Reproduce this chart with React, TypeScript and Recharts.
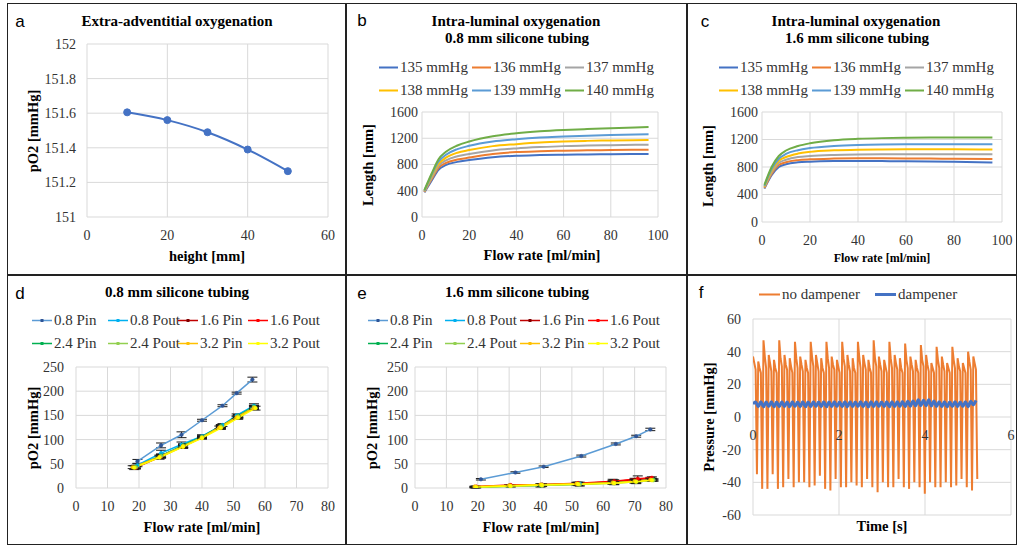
import React from 'react';
import { LineChart, Line, XAxis, YAxis, CartesianGrid, ErrorBar } from 'recharts';

const SERIF = '"Liberation Serif", "Times New Roman", Times, serif';
const SANS = '"Liberation Sans", Arial, sans-serif';
const GRID = '#d9d9d9';
const TICK_COLOR = '#333333';

// ---------------- Panel a ----------------
const aHeights = [10, 20, 30, 40, 50];
const aPO2 = [151.605, 151.56, 151.49, 151.39, 151.265];
const aXTicks = [0, 20, 40, 60];
const aYTicks = [151, 151.2, 151.4, 151.6, 151.8, 152];

// ---------------- Panels b, c ----------------
const lumenNames = ['135 mmHg', '136 mmHg', '137 mmHg', '138 mmHg', '139 mmHg', '140 mmHg'];
const lumenKeys = ['p135', 'p136', 'p137', 'p138', 'p139', 'p140'];
const lumenFlow = [1, 4, 7, 10, 15, 20, 30, 40, 50, 60, 70, 80, 96];
const lumenXTicks = [0, 20, 40, 60, 80, 100];
const lumenYTicks = [0, 400, 800, 1200, 1600];

const b135 = [375, 550, 720, 790, 840, 867, 910, 933, 943, 950, 954, 957, 960];
const b136 = [382, 570, 750, 820, 875, 905, 960, 990, 1002, 1010, 1016, 1020, 1025];
const b137 = [389, 590, 780, 860, 925, 960, 1015, 1045, 1065, 1080, 1088, 1095, 1102];
const b138 = [396, 615, 810, 900, 980, 1020, 1080, 1110, 1135, 1150, 1160, 1166, 1174];
const b139 = [403, 635, 845, 945, 1035, 1085, 1150, 1185, 1210, 1225, 1238, 1248, 1262];
const b140 = [410, 655, 880, 990, 1090, 1150, 1230, 1275, 1305, 1325, 1340, 1352, 1370];

const c135 = [485, 680, 800, 840, 868, 878, 886, 888, 886, 884, 880, 875, 866];
const c136 = [495, 700, 830, 870, 900, 912, 922, 926, 926, 925, 922, 920, 915];
const c137 = [505, 720, 860, 905, 945, 960, 975, 982, 985, 986, 986, 986, 986];
const c138 = [515, 745, 890, 945, 995, 1020, 1042, 1052, 1056, 1058, 1058, 1057, 1055];
const c139 = [525, 770, 920, 990, 1045, 1075, 1105, 1120, 1127, 1130, 1131, 1131, 1130];
const c140 = [540, 800, 960, 1040, 1105, 1145, 1190, 1210, 1220, 1225, 1228, 1229, 1230];

// ---------------- Panels d, e ----------------
const pNames = ['0.8 Pin', '0.8 Pout', '1.6 Pin', '1.6 Pout', '2.4 Pin', '2.4 Pout', '3.2 Pin', '3.2 Pout'];
const pXTicks = [0, 10, 20, 30, 40, 50, 60, 70, 80];
const pYTicks = [0, 50, 100, 150, 200, 250];

const dFlow = [
  [19.5, 27, 33.5, 40, 46.5, 51, 56],
  [19.5, 27, 33.5, 40, 46.5, 51, 56.5],
  [19, 27, 34, 40, 46, 51.5, 56.5],
  [19, 27, 34, 40, 46, 51.5, 56.5],
  [19, 27, 34, 40, 46, 51.5, 56.5],
  [19, 27, 34, 40, 46, 51.5, 56.5],
  [18, 26.5, 34, 40, 45.5, 51, 56.5],
  [18.5, 26.5, 34, 40, 46, 51.5, 57],
];
const dPO2 = [
  [55, 88, 110, 140, 170, 196, 224],
  [47, 72, 90, 107, 130, 150, 170],
  [43, 66, 87, 105, 127, 148, 167],
  [42, 65, 86, 104, 126, 147, 166],
  [44, 67, 88, 106, 128, 149, 168],
  [43, 66, 87, 105, 127, 148, 167],
  [43, 64, 86, 104, 125, 146, 165],
  [42, 63, 85, 103, 124, 145, 165],
];
const dErr = [
  [4, 5, 6, 2, 2, 2, 5],
  [3, 6, 5, 3, 3, 3, 4],
  [2, 4, 4, 2, 3, 3, 3],
  [3, 3, 3, 2, 3, 3, 3],
  [3, 3, 3, 2, 3, 3, 3],
  [2, 3, 3, 2, 3, 3, 3],
  [3, 4, 3, 2, 3, 3, 3],
  [4, 3, 3, 2, 3, 3, 4],
];

const eFlow = [
  [21, 32, 41, 53, 64, 70.5, 75],
  [19.5, 30.5, 40.5, 52.5, 63, 70.5, 75.5],
  [19, 30, 40, 51.5, 63, 70, 75],
  [19.5, 30.5, 40.5, 52, 63.5, 71, 75.5],
  [19, 30, 40, 52, 63, 70, 76],
  [19.5, 30.5, 40.5, 52.5, 63.5, 70.5, 76],
  [19, 30, 40, 51.5, 63, 70, 75],
  [19.5, 30.5, 40.5, 52, 63.5, 70.5, 75.5],
];
const ePO2 = [
  [18, 32, 44, 66, 91, 107, 121],
  [2, 5, 7, 9, 12, 15, 18],
  [2, 5, 6, 9, 13, 17, 20],
  [3, 6, 7, 10, 14, 19, 21],
  [1, 4, 5, 8, 11, 14, 17],
  [1, 3, 5, 7, 10, 13, 16],
  [3, 5, 7, 9, 11, 14, 17],
  [2, 4, 6, 8, 10, 13, 16],
];
const eErr = [
  [1.5, 1.5, 1.5, 2, 2, 2, 2.5],
  [1, 1, 2, 3, 3, 4, 2],
  [1, 1, 1, 2, 5, 3, 2],
  [1, 1, 1, 2, 3, 6, 2],
  [1, 1, 3, 3, 3, 4, 2],
  [1, 1, 2, 3, 3, 4, 2],
  [1, 1, 2, 3, 3, 3, 2],
  [1, 1, 2, 3, 3, 3, 2],
];

// ---------------- Panel f ----------------
const fNames = ['no dampener', 'dampener'];
const fXTicks = [0, 2, 4, 6];
const fYTicks = [-60, -40, -20, 0, 20, 40, 60];
const fSampleNo = 0.0305; // s between samples, no dampener
const fSampleDamp = 0.061; // s between samples, dampener
const fNoDampener = [
  37, 33, 29, -35,
  34, 30, 27, -44,
  47, 37, 30, -44,
  38, 33, 28, -35,
  35, 30, 27, -44,
  47, 36, 31, -43,
  38, 32, 29, -38,
  36, 31, 27, -43,
  46, 36, 30, -40,
  37, 32, 28, -40,
  35, 30, 27, -43,
  46, 37, 31, -42,
  38, 33, 28, -36,
  36, 30, 27, -44,
  46, 36, 30, -45,
  37, 32, 29, -38,
  35, 31, 27, -43,
  46, 36, 31, -43,
  38, 32, 28, -40,
  36, 30, 27, -42,
  46, 37, 30, -43,
  38, 33, 29, -38,
  35, 30, 27, -43,
  47, 36, 31, -46,
  37, 32, 28, -40,
  35, 31, 27, -43,
  46, 36, 30, -43,
  38, 33, 29, -38,
  36, 30, 27, -43,
  45, 35, 30, -44,
  37, 32, 28, -40,
  35, 30, 27, -43,
  44, 35, 31, -47,
  38, 32, 28, -40,
  33, 30, 27, -43,
  43, 35, 30, -43,
  37, 32, 28, -40,
  33, 30, 27, -43,
  43, 35, 30, -42,
  36, 31, 28, -38,
  33, 30, 27, -43,
  40, 34, 29, -45,
  37, 33, 29, -38,
];
const fDampener = [
  8, 9.2, 6.3, 9.3, 6.2, 9.2, 6.4, 9.3, 6.2, 9.2,
  6.3, 9.4, 6.3, 9.2, 6.2, 9.3, 6.4, 9.2, 6.3, 9.3,
  6.2, 9.2, 6.3, 9.4, 6.4, 9.2, 6.3, 9.3, 6.2, 9.2,
  6.3, 9.3, 6.4, 9.2, 6.3, 9.4, 6.2, 9.3, 6.3, 9.2,
  6.4, 9.3, 6.3, 9.2, 6.2, 9.4, 6.3, 9.3, 6.4, 9.2,
  6.3, 9.3, 6.2, 9.4, 6.3, 9.3, 6.5, 9.5, 6.4, 9.6,
  6.6, 9.8, 6.8, 10.5, 7.0, 10.3, 6.9, 10.6, 6.8, 9.8,
  6.5, 9.4, 6.3, 9.3, 6.2, 9.2, 6.4, 9.3, 6.3, 9.2,
  6.4, 9.4, 6.3, 9.6, 7.5, 10.2,
];

// ---------------- styles ----------------
const lumenColors = ['#4472C4', '#ED7D31', '#A5A5A5', '#FFC000', '#5B9BD5', '#70AD47'];
const pLineColors = ['#5B9BD5', '#00B0F0', '#C00000', '#FF0000', '#00B050', '#92D050', '#FFC000', '#FFFF00'];
const pMarkerColors = ['#2F5597', '#00B0F0', '#7F0000', '#FF0000', '#00B050', '#92D050', '#FFC000', '#FFFF00'];
const fColors = ['#ED7D31', '#4472C4'];

type Box = { x0: number; y0: number; w: number; h: number; L: number; R: number; T: number; B: number };
const YW = 60;
const XH = 30;
const PA: Box = { x0: 0, y0: 0, w: 345, h: 275, L: 87, R: 328, T: 44, B: 217 };
const PB: Box = { x0: 345, y0: 0, w: 340, h: 275, L: 422, R: 658, T: 112, B: 217 };
const PC: Box = { x0: 685, y0: 0, w: 338, h: 275, L: 762, R: 1002, T: 112, B: 222 };
const PD: Box = { x0: 0, y0: 275, w: 345, h: 272, L: 76, R: 328, T: 367, B: 488 };
const PE: Box = { x0: 345, y0: 275, w: 340, h: 272, L: 415, R: 666, T: 367, B: 488 };
const PF: Box = { x0: 685, y0: 275, w: 338, h: 272, L: 753, R: 1011, T: 319, B: 515 };

function marginsOf(b: Box) {
  return { left: b.L - b.x0 - YW, right: b.x0 + b.w - b.R, top: b.T - b.y0, bottom: b.y0 + b.h - b.B - XH };
}

const tickStyle = { fill: TICK_COLOR, fontSize: 14, fontFamily: SERIF };

function Holder({ box, children }: { box: Box; children: React.ReactNode }) {
  return <div style={{ position: 'absolute', left: box.x0, top: box.y0, width: box.w, height: box.h }}>{children}</div>;
}

function Txt({ x, y, children, size = 14, bold = false, family = SERIF, rotate = false, color = '#000' }: any) {
  return (
    <div
      style={{
        position: 'absolute', left: x, top: y,
        transform: `translate(-50%, -50%)${rotate ? ' rotate(-90deg)' : ''}`,
        fontSize: size, fontWeight: bold ? 700 : 400, fontFamily: family, color,
        whiteSpace: 'nowrap', lineHeight: 1,
      }}
    >
      {children}
    </div>
  );
}

function LegendItem({ x, y, color, label, len = 19, width = 2, marker }: any) {
  return (
    <div style={{ position: 'absolute', left: x, top: y, transform: 'translateY(-50%)', display: 'flex', alignItems: 'center', fontFamily: SERIF, fontSize: 15, color: TICK_COLOR, lineHeight: 1, whiteSpace: 'nowrap' }}>
      <svg width={len} height={10} style={{ display: 'block' }}>
        <line x1={0} x2={len} y1={5} y2={5} stroke={color} strokeWidth={width} />
        {marker ? <rect x={len / 2 - 1.5} y={3.5} width={3} height={3} fill={marker} /> : null}
      </svg>
      <span style={{ marginLeft: 2 }}>{label}</span>
    </div>
  );
}

const aData = aHeights.map((h, i) => ({ x: h, y: aPO2[i] }));
function lumenRows(series: number[][]) {
  return lumenFlow.map((f, i) => {
    const row: any = { x: f };
    lumenKeys.forEach((k, j) => { row[k] = series[j][i]; });
    return row;
  });
}
const bData = lumenRows([b135, b136, b137, b138, b139, b140]);
const cData = lumenRows([c135, c136, c137, c138, c139, c140]);
const pSeries = (flows: number[][], vals: number[][], errs: number[][]) =>
  flows.map((xs, s) => xs.map((x, i) => ({ x, y: vals[s][i], err: errs[s][i] })));
const dSeries = pSeries(dFlow, dPO2, dErr);
const eSeries = pSeries(eFlow, ePO2, eErr);
const fNoData = fNoDampener.map((p, i) => ({ t: i * fSampleNo, p }));
const fDampData = fDampener.map((p, i) => ({ t: i * fSampleDamp, p }));

function LumenChart({ box, data, yGap }: { box: Box; data: any[]; yGap: number }) {
  return (
    <Holder box={box}>
      <LineChart width={box.w} height={box.h} margin={marginsOf(box)}>
        <CartesianGrid stroke={GRID} />
        <XAxis type="number" dataKey="x" domain={[0, 100]} ticks={lumenXTicks} axisLine={false} tickLine={false} tickSize={0} tickMargin={13} tick={tickStyle} height={XH} allowDataOverflow interval={0} />
        <YAxis type="number" domain={[0, 1600]} ticks={lumenYTicks} axisLine={false} tickLine={false} tickSize={0} tickMargin={yGap} tick={tickStyle} width={YW} allowDataOverflow interval={0} />
        {lumenKeys.map((k, j) => (
          <Line key={k} data={data} dataKey={k} name={lumenNames[j]} type="monotone" stroke={lumenColors[j]} strokeWidth={2} dot={false} isAnimationActive={false} />
        ))}
      </LineChart>
    </Holder>
  );
}

function PO2Chart({ box, series, yGap }: { box: Box; series: any[][]; yGap: number }) {
  return (
    <Holder box={box}>
      <LineChart width={box.w} height={box.h} margin={marginsOf(box)}>
        <CartesianGrid stroke={GRID} />
        <XAxis type="number" dataKey="x" domain={[0, 80]} ticks={pXTicks} axisLine={false} tickLine={false} tickSize={0} tickMargin={13} tick={tickStyle} height={XH} allowDataOverflow interval={0} />
        <YAxis type="number" domain={[0, 250]} ticks={pYTicks} axisLine={false} tickLine={false} tickSize={0} tickMargin={yGap} tick={tickStyle} width={YW} allowDataOverflow interval={0} />
        {series.map((d, s) => (
          <Line key={pNames[s]} data={d} dataKey="y" name={pNames[s]} type="linear" stroke={pLineColors[s]} strokeWidth={1.5}
            dot={{ r: 1.8, fill: pMarkerColors[s], stroke: pMarkerColors[s], strokeWidth: 0.5 }} isAnimationActive={false}>
            <ErrorBar dataKey="err" width={5} strokeWidth={1} stroke="#1a1a1a" direction="y" isAnimationActive={false} />
          </Line>
        ))}
      </LineChart>
    </Holder>
  );
}

const fPlotH = PF.B - PF.T;
function FTick(props: any) {
  const { x, y, payload } = props;
  return (
    <text x={x} y={y - fPlotH / 2 + 23} textAnchor="middle" fill={TICK_COLOR} fontSize={14} fontFamily={SERIF}>
      {payload.value}
    </text>
  );
}

export default function App() {
  const frame = { position: 'absolute' as const, background: '#222' };
  return (
    <div style={{ position: 'absolute', left: 0, top: 0, width: 1023, height: 547, background: '#fff', overflow: 'hidden' }}>
      {/* Panel a */}
      <Holder box={PA}>
        <LineChart width={PA.w} height={PA.h} margin={marginsOf(PA)}>
          <CartesianGrid stroke={GRID} />
          <XAxis type="number" dataKey="x" domain={[0, 60]} ticks={aXTicks} axisLine={false} tickLine={false} tickSize={0} tickMargin={13} tick={tickStyle} height={XH} allowDataOverflow interval={0} />
          <YAxis type="number" domain={[151, 152]} ticks={aYTicks} axisLine={false} tickLine={false} tickSize={0} tickMargin={11} tick={tickStyle} width={YW} allowDataOverflow interval={0} />
          <Line data={aData} dataKey="y" type="monotone" stroke="#4472C4" strokeWidth={2}
            dot={{ r: 3.5, fill: '#4472C4', stroke: '#4472C4', strokeWidth: 1 }} isAnimationActive={false} />
        </LineChart>
      </Holder>

      <LumenChart box={PB} data={bData} yGap={4} />
      <LumenChart box={PC} data={cData} yGap={4} />
      <PO2Chart box={PD} series={dSeries} yGap={12} />
      <PO2Chart box={PE} series={eSeries} yGap={7} />

      {/* Panel f */}
      <Holder box={PF}>
        <LineChart width={PF.w} height={PF.h} margin={marginsOf(PF)}>
          <CartesianGrid stroke={GRID} />
          <XAxis type="number" dataKey="t" domain={[0, 6]} ticks={fXTicks} axisLine={false} tickLine={false} tickSize={0} tickMargin={0} tick={<FTick />} height={XH} allowDataOverflow interval={0} />
          <YAxis type="number" domain={[-60, 60]} ticks={fYTicks} axisLine={false} tickLine={false} tickSize={0} tickMargin={12} tick={tickStyle} width={YW} allowDataOverflow interval={0} />
          <Line data={fNoData} dataKey="p" name={fNames[0]} type="linear" stroke={fColors[0]} strokeWidth={2} dot={false} isAnimationActive={false} />
          <Line data={fDampData} dataKey="p" name={fNames[1]} type="monotone" stroke={fColors[1]} strokeWidth={3} dot={false} isAnimationActive={false} />
        </LineChart>
      </Holder>

      {/* Frame */}
      <div style={{ position: 'absolute', left: 7, top: 3, width: 1010, height: 542, border: '1.5px solid #222', boxSizing: 'border-box' }} />
      <div style={{ ...frame, left: 345, top: 3, width: 1.5, height: 542 }} />
      <div style={{ ...frame, left: 686, top: 3, width: 1.5, height: 542 }} />
      <div style={{ ...frame, left: 7, top: 274, width: 1010, height: 1.5 }} />

      {/* Panel letters */}
      <Txt x={20} y={21} size={17} family={SANS}>a</Txt>
      <Txt x={362} y={20} size={17} family={SANS}>b</Txt>
      <Txt x={705} y={21} size={17} family={SANS}>c</Txt>
      <Txt x={20} y={293} size={17} family={SANS}>d</Txt>
      <Txt x={362} y={293} size={17} family={SANS}>e</Txt>
      <Txt x={701} y={292} size={17} family={SANS}>f</Txt>

      {/* Titles */}
      <Txt x={177} y={21} size={15} bold>Extra-adventitial oxygenation</Txt>
      <Txt x={516} y={21} size={15} bold>Intra-luminal oxygenation</Txt>
      <Txt x={517} y={38} size={15} bold>0.8 mm silicone tubing</Txt>
      <Txt x={856} y={21} size={15} bold>Intra-luminal oxygenation</Txt>
      <Txt x={857} y={38} size={15} bold>1.6 mm silicone tubing</Txt>
      <Txt x={177} y={292} size={15} bold>0.8 mm silicone tubing</Txt>
      <Txt x={517} y={292} size={15} bold>1.6 mm silicone tubing</Txt>

      {/* Axis titles */}
      <Txt x={33} y={131} size={14.5} bold rotate>pO2 [mmHg]</Txt>
      <Txt x={207} y={256} size={14.5} bold>height [mm]</Txt>
      <Txt x={368} y={165} size={14.5} bold rotate>Length [mm]</Txt>
      <Txt x={542} y={255} size={14.5} bold>Flow rate [ml/min]</Txt>
      <Txt x={708} y={166} size={14.5} bold rotate>Length [mm]</Txt>
      <Txt x={882} y={258} size={12} bold>Flow rate [ml/min]</Txt>
      <Txt x={33} y={428} size={14.5} bold rotate>pO2 [mmHg]</Txt>
      <Txt x={202} y={527} size={14.5} bold>Flow rate [ml/min]</Txt>
      <Txt x={372} y={428} size={14.5} bold rotate>pO2 [mmHg]</Txt>
      <Txt x={541} y={527} size={14.5} bold>Flow rate [ml/min]</Txt>
      <Txt x={709} y={417} size={14.5} bold rotate>Pressure [mmHg]</Txt>
      <Txt x={882} y={526} size={14.5} bold>Time [s]</Txt>

      {/* Legends b, c */}
      {lumenNames.map((n, j) => (
        <LegendItem key={'b' + n} x={345 + [34, 127, 220][j % 3]} y={j < 3 ? 67 : 90} color={lumenColors[j]} label={n} />
      ))}
      {lumenNames.map((n, j) => (
        <LegendItem key={'c' + n} x={685 + [34, 127, 220][j % 3]} y={j < 3 ? 67 : 90} color={lumenColors[j]} label={n} />
      ))}
      {/* Legends d, e */}
      {pNames.map((n, s) => (
        <LegendItem key={'d' + n} x={[32, 108, 178, 248][s % 4]} y={s < 4 ? 320 : 343} color={pLineColors[s]} label={n} len={20} width={1.5} marker={pMarkerColors[s]} />
      ))}
      {pNames.map((n, s) => (
        <LegendItem key={'e' + n} x={345 + [23, 100, 175, 243][s % 4]} y={s < 4 ? 320 : 343} color={pLineColors[s]} label={n} len={20} width={1.5} marker={pMarkerColors[s]} />
      ))}
      {/* Legend f */}
      {fNames.map((n, s) => (
        <LegendItem key={'f' + n} x={685 + [74, 190][s]} y={294} color={fColors[s]} label={n} len={21} width={s === 0 ? 2 : 3} />
      ))}
    </div>
  );
}
